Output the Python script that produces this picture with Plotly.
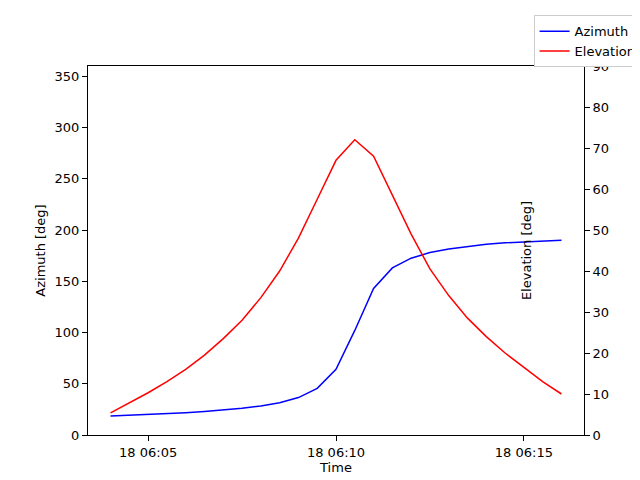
import plotly.graph_objects as go
import pandas as pd

times = pd.date_range("2024-01-18 06:04:00", "2024-01-18 06:16:00", freq="30s")
azimuth = [18.5, 19.2, 20.0, 20.8, 21.8, 23.0, 24.3, 26.0, 28.3, 31.5, 36.5, 45.5, 64.0,
           102.0, 143.0, 163.0, 172.5, 178.0, 181.5, 184.0, 186.0, 187.5, 188.5, 189.5, 190.0]
elevation = [5.4, 7.8, 10.3, 13.0, 16.0, 19.5, 23.5, 28.0, 33.5, 40.0, 48.0, 57.5, 67.0,
             72.0, 68.0, 58.5, 49.0, 40.5, 34.0, 28.5, 24.0, 20.0, 16.5, 13.0, 10.0]

fig = go.Figure()
fig.add_trace(go.Scatter(x=times, y=azimuth, name="Azimuth", mode="lines",
                         line=dict(color="blue", width=1.5)))
fig.add_trace(go.Scatter(x=times, y=elevation, name="Elevation", mode="lines",
                         line=dict(color="red", width=1.5), yaxis="y2"))

axis_style = dict(showline=True, linecolor="black", linewidth=1, ticks="outside",
                  tickcolor="black", showgrid=False, zeroline=False,
                  tickfont=dict(size=13, color="black"))

fig.update_layout(
    width=640, height=480,
    margin=dict(l=80, r=64, t=58, b=53, autoexpand=False),
    plot_bgcolor="white", paper_bgcolor="white",
    font=dict(family="DejaVu Sans", size=13, color="black"),
    xaxis=dict(title=dict(text="Time", standoff=4, font=dict(size=13)), tickformat="%d %H:%M", mirror=True,
               range=["2024-01-18 06:03:24", "2024-01-18 06:16:36"],
               tickvals=["2024-01-18 06:05", "2024-01-18 06:10", "2024-01-18 06:15"],
               automargin=False, **axis_style),
    yaxis=dict(title=dict(text="Azimuth [deg]", standoff=6, font=dict(size=13)), range=[0, 360], dtick=50,
               automargin=False, **axis_style),
    yaxis2=dict(title=dict(text="Elevation [deg]", standoff=6, font=dict(size=13)), range=[0, 90], dtick=10,
                overlaying="y", side="right", automargin=False, **axis_style),
    legend=dict(x=0.99, y=0.985, xref="container", yref="container", xanchor="right", yanchor="top",
                bordercolor="#cccccc", borderwidth=1, font=dict(size=13)),
)

fig.write_html("out.html")
